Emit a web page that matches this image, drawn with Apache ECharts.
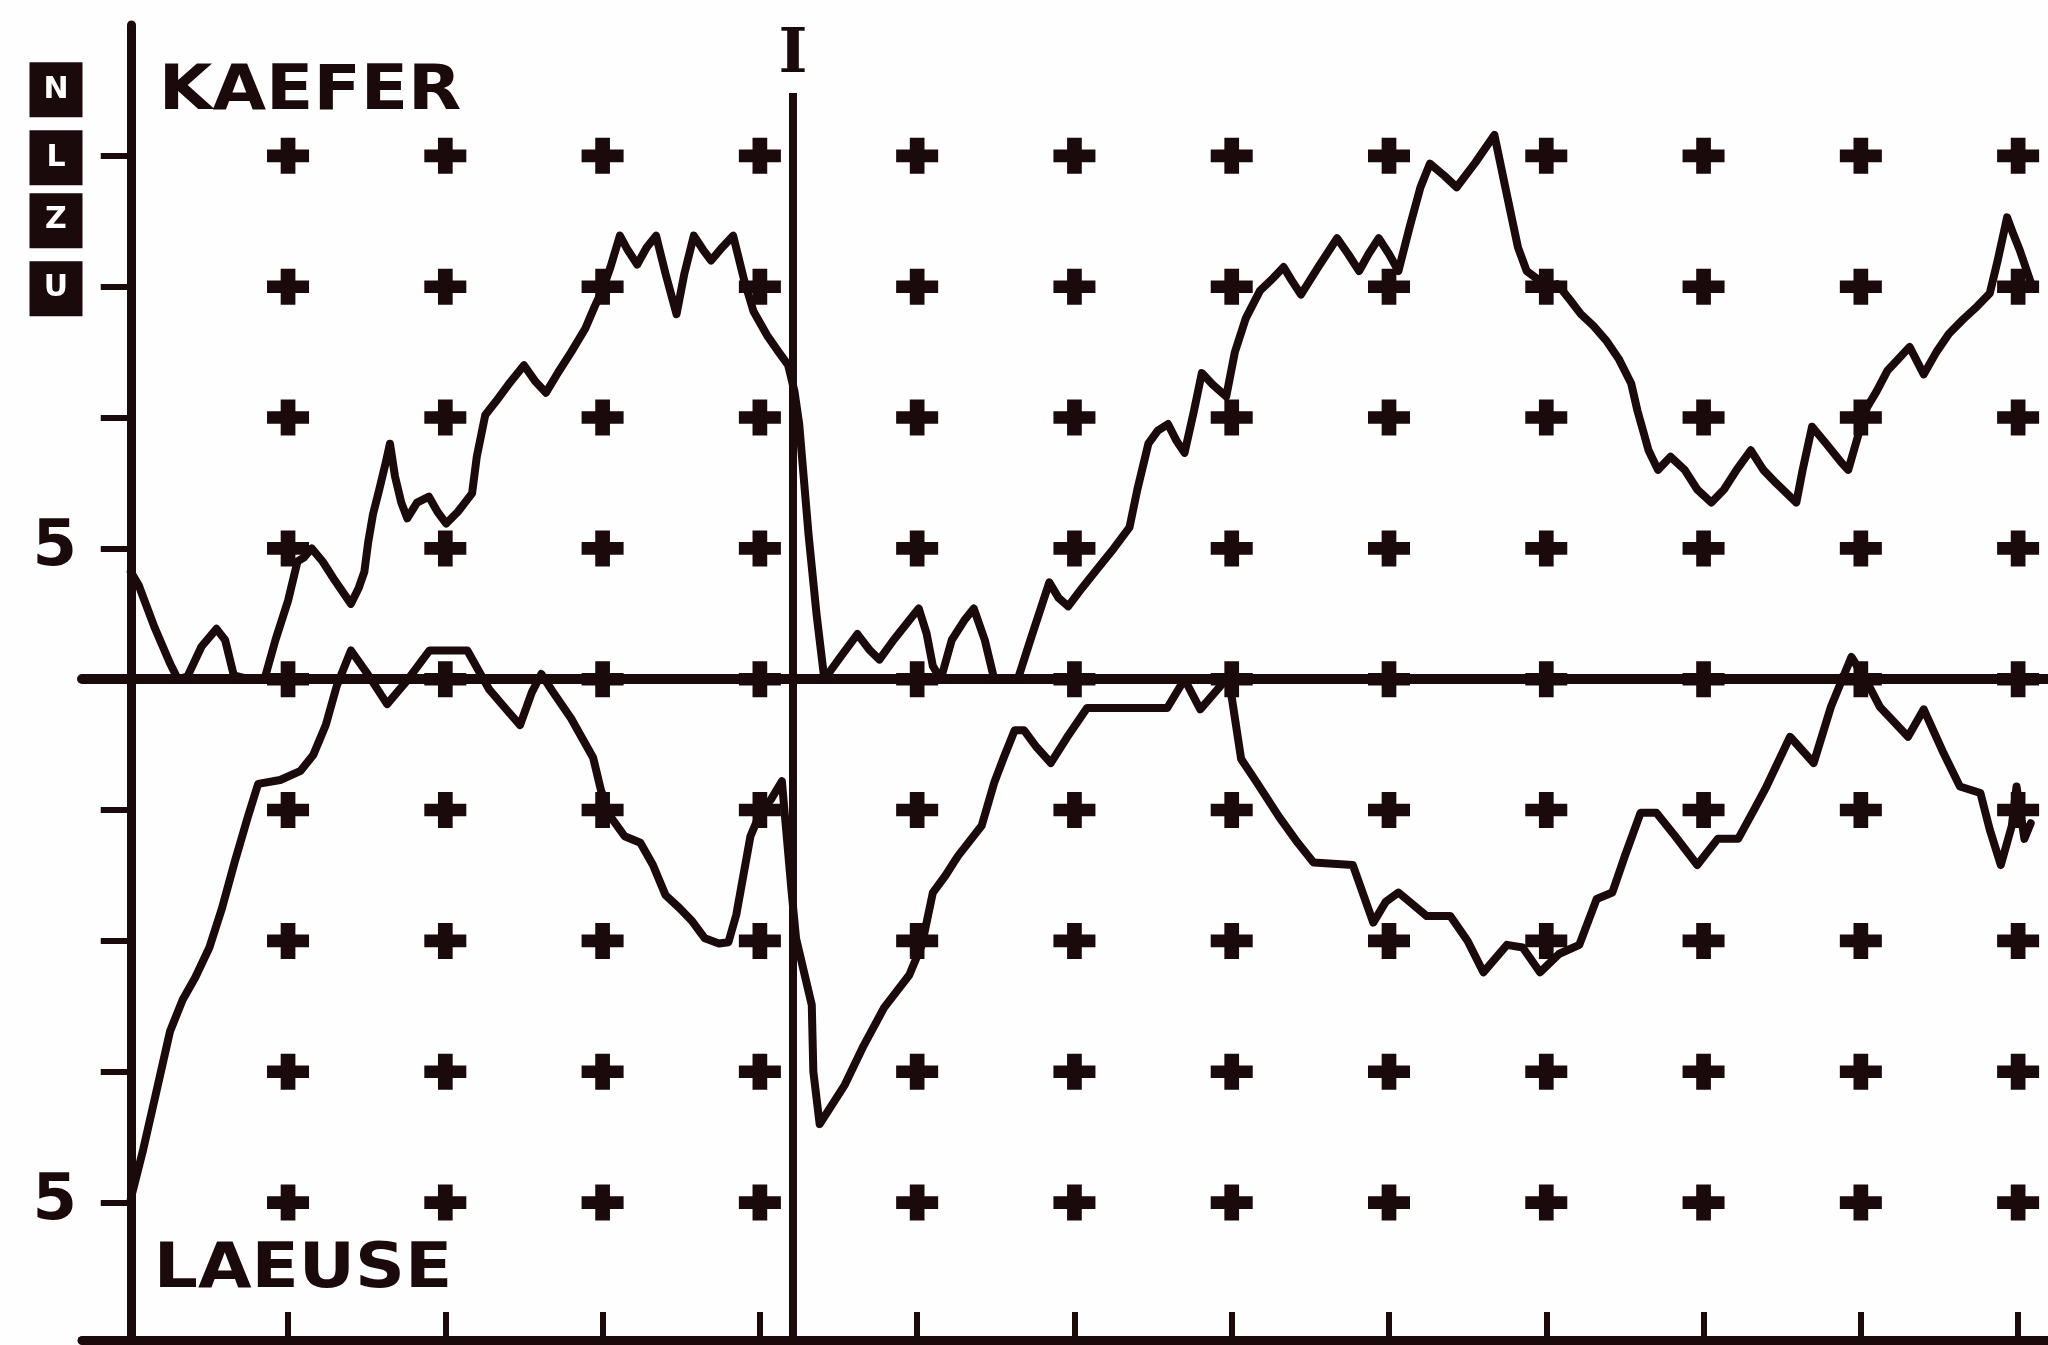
<!DOCTYPE html>
<html>
<head>
<meta charset="utf-8">
<script src="https://cdn.jsdelivr.net/npm/echarts@6/dist/echarts.min.js"></script>
<style>
html,body{margin:0;padding:0;background:#fefefe;}
#c{width:2048px;height:1345px;}
</style>
</head>
<body>
<div id="c"></div>
<script>
// ---- data ----
const seriesNames = ['KAEFER', 'LAEUSE'];
const kaefer = [[0,0.82],[0.05,0.72],[0.15,0.40],[0.25,0.12],[0.30,0.0],[0.36,0.02],[0.45,0.25],[0.545,0.385],[0.6,0.3],[0.655,0.03],[0.75,0.0],[0.85,0.0],
[0.92,0.3],[1.0,0.6],[1.06,0.9],[1.10,0.93],[1.15,1.0],[1.22,0.9],[1.30,0.75],[1.40,0.576],[1.45,0.7],[1.485,0.82],[1.51,1.05],[1.54,1.26],[1.58,1.45],[1.62,1.65],[1.648,1.80],[1.68,1.55],[1.72,1.35],[1.758,1.23],[1.82,1.35],[1.896,1.395],[1.95,1.28],[2.006,1.19],[2.08,1.28],[2.17,1.42],[2.2,1.7],[2.254,2.02],[2.32,2.12],[2.40,2.25],[2.50,2.40],[2.57,2.28],[2.64,2.19],[2.72,2.35],[2.80,2.5],[2.89,2.68],[2.95,2.85],[3.00,2.98],[3.05,3.15],[3.11,3.39],[3.16,3.28],[3.22,3.17],[3.28,3.3],[3.34,3.39],[3.40,3.1],[3.47,2.79],[3.52,3.1],[3.58,3.39],[3.64,3.28],[3.69,3.20],[3.76,3.3],[3.83,3.39],[3.90,3.05],[3.96,2.81],[4.05,2.62],[4.12,2.5],[4.18,2.40],
[4.22,2.2],[4.25,1.95],[4.31,1.10],[4.36,0.5],[4.41,0.0],
[4.5,0.15],[4.62,0.345],[4.70,0.22],[4.76,0.15],[4.85,0.3],[4.95,0.45],[5.01,0.54],[5.06,0.35],[5.10,0.1],[5.15,0.0],[5.22,0.3],[5.30,0.45],[5.36,0.54],[5.43,0.3],[5.49,0.0],[5.64,0.0],
[5.72,0.3],[5.84,0.74],[5.90,0.62],[5.96,0.557],[6.05,0.7],[6.15,0.85],[6.25,1.0],[6.35,1.16],[6.40,1.45],[6.47,1.80],[6.53,1.9],[6.595,1.95],[6.65,1.82],[6.70,1.73],[6.76,2.05],[6.81,2.34],[6.88,2.25],[6.965,2.16],[7.02,2.5],[7.09,2.76],[7.18,2.97],[7.25,3.05],[7.33,3.15],[7.38,3.05],[7.44,2.94],[7.55,3.15],[7.67,3.37],[7.74,3.25],[7.81,3.12],[7.87,3.25],[7.935,3.37],[8.0,3.25],[8.06,3.12],[8.13,3.45],[8.20,3.76],[8.26,3.94],[8.35,3.85],[8.43,3.76],[8.55,3.95],[8.67,4.16],[8.75,3.7],[8.82,3.3],[8.875,3.12],[9.01,3.00],[9.07,3.02],[9.15,2.9],[9.22,2.79],[9.30,2.7],[9.38,2.59],[9.46,2.45],[9.54,2.26],[9.58,2.05],[9.62,1.88],[9.65,1.75],[9.71,1.60],[9.79,1.70],[9.88,1.60],[9.96,1.45],[10.05,1.35],[10.13,1.45],[10.21,1.60],[10.30,1.75],[10.38,1.60],[10.46,1.50],[10.59,1.35],[10.63,1.60],[10.69,1.93],[10.78,1.80],[10.88,1.65],[10.92,1.60],[10.98,1.85],[11.04,2.08],[11.10,2.2],[11.17,2.36],[11.24,2.45],[11.31,2.54],[11.40,2.33],[11.48,2.5],[11.56,2.64],[11.65,2.75],[11.74,2.85],[11.82,2.95],[11.87,3.2],[11.93,3.53],[11.97,3.4],[12.01,3.28],[12.09,3.0]];

const laeuse = [[0,-3.97],[0.08,-3.59],[0.165,-3.14],[0.25,-2.69],[0.33,-2.45],[0.41,-2.28],[0.50,-2.05],[0.58,-1.75],[0.66,-1.40],[0.745,-1.05],[0.81,-0.80],[0.95,-0.77],[1.08,-0.70],[1.16,-0.58],[1.24,-0.35],[1.31,-0.05],[1.40,0.22],[1.50,0.05],[1.63,-0.19],[1.75,-0.02],[1.90,0.22],[2.14,0.22],[2.28,-0.08],[2.38,-0.22],[2.475,-0.35],[2.55,-0.1],[2.61,0.04],[2.68,-0.09],[2.80,-0.3],[2.94,-0.60],[2.99,-0.85],[3.05,-1.05],[3.14,-1.20],[3.24,-1.25],[3.32,-1.42],[3.40,-1.65],[3.49,-1.75],[3.57,-1.85],[3.65,-1.98],[3.74,-2.02],[3.80,-2.01],[3.85,-1.80],[3.88,-1.60],[3.94,-1.20],[4.01,-1.00],[4.07,-0.92],[4.14,-0.78],
[4.20,-1.60],[4.23,-1.98],[4.33,-2.49],[4.34,-3.00],[4.38,-3.40],[4.54,-3.10],[4.66,-2.8],[4.79,-2.51],[4.95,-2.26],[5.03,-2.03],[5.10,-1.63],[5.18,-1.5],[5.26,-1.35],[5.41,-1.12],[5.49,-0.79],[5.55,-0.6],[5.62,-0.39],[5.68,-0.39],[5.76,-0.52],[5.85,-0.64],[5.95,-0.45],[6.08,-0.22],[6.59,-0.22],[6.70,0.0],[6.80,-0.23],[6.98,0.02],[7.06,-0.61],[7.16,-0.79],[7.30,-1.05],[7.42,-1.25],[7.52,-1.40],[7.77,-1.42],[7.90,-1.86],[7.98,-1.7],[8.06,-1.63],[8.15,-1.72],[8.24,-1.81],[8.39,-1.81],[8.50,-2.0],[8.60,-2.24],[8.75,-2.03],[8.85,-2.05],[8.96,-2.24],[9.08,-2.1],[9.21,-2.03],[9.32,-1.68],[9.42,-1.63],[9.50,-1.35],[9.60,-1.02],[9.70,-1.02],[9.82,-1.2],[9.96,-1.42],[10.09,-1.22],[10.22,-1.22],[10.32,-1.0],[10.40,-0.82],[10.55,-0.44],[10.70,-0.64],[10.81,-0.21],[10.94,0.17],[11.03,0.0],[11.12,-0.21],[11.30,-0.44],[11.40,-0.23],[11.52,-0.55],[11.63,-0.82],[11.76,-0.87],[11.82,-1.15],[11.89,-1.42],[11.96,-1.12],[11.99,-0.82],[12.04,-1.22],[12.08,-1.1]];

const crossCols = [1,2,3,4,5,6,7,8,9,10,11,12];
const crossRows = [-4,-3,-2,-1,0,1,2,3,4];
const xTicks = [1,2,3,4,5,6,7,8,9,10,11,12];
const yTicks = [-4,-3,-2,-1,1,2,3,4];
const yLabelValues = [1,-4];
const yLabelText = {'1':'5','-4':'5'};
const markerX = 4.21;      // vertical marker "I"
const markerTop = 4.48;
const markerLabel = 'I';
const topGlyphs = [{value:4, chars:['N','L']},{value:3, chars:['Z','U']}];

// ---- chart ----
const ink = '#1a0a0c';
const xMin = -0.31, xMax = 12.19, yMin = -5.05, yMax = 5.0;
const crosses = [];
crossCols.forEach(c => crossRows.forEach(r => crosses.push([c, r])));

const chart = echarts.init(document.getElementById('c'), null, {renderer:'canvas'});
const option = {
  backgroundColor: '#fefefe',
  animation: false,
  grid: {left: 82, right: 0, top: 25, bottom: 5, containLabel: false, outerBoundsMode: 'none'},
  xAxis: [
    {type:'value', min:xMin, max:xMax, position:'top',
     axisLine:{show:true, onZero:true, lineStyle:{color:ink, width:10}},
     axisTick:{show:false}, axisLabel:{show:false}, splitLine:{show:false}},
    {type:'value', min:xMin, max:xMax, position:'bottom',
     axisLine:{show:true, onZero:false, lineStyle:{color:ink, width:9}},
     axisTick:{show:true, inside:true, length:28, lineStyle:{color:ink, width:6}, customValues:xTicks},
     axisLabel:{show:false}, splitLine:{show:false}}
  ],
  yAxis: {type:'value', min:yMin, max:yMax, position:'left',
    axisLine:{show:true, onZero:true, onZeroAxisIndex:0, lineStyle:{color:ink, width:9}},
    axisTick:{show:true, inside:false, length:30, lineStyle:{color:ink, width:6}, customValues:yTicks},
    axisLabel:{show:true, customValues:yLabelValues, margin:5, color:ink,
      fontFamily:'DejaVu Sans', fontWeight:'bold', fontSize:64,
      formatter: v => yLabelText[String(Math.round(v))] || ''},
    splitLine:{show:false}},
  series: [
    {type:'scatter', name:'grid', xAxisIndex:0, data:crosses, silent:true,
     symbol:'path://M6.5,0H13.5V6.5H20V13.5H13.5V20H6.5V13.5H0V6.5H6.5Z', symbolSize:[42,36],
     itemStyle:{color:ink, opacity:1}, z:1},
    {type:'line', name:seriesNames[0], xAxisIndex:0, data:kaefer, showSymbol:false, silent:true,
     lineStyle:{color:ink, width:8, join:'round', cap:'round'}, z:3,
     markLine:{symbol:'none', silent:true, animation:false,
       lineStyle:{color:ink, width:8, type:'solid'},
       label:{show:true, position:'end', formatter:markerLabel, distance:6, color:ink,
         fontFamily:'DejaVu Serif', fontWeight:'bold', fontSize:62},
       data:[[{coord:[markerX, yMin]},{coord:[markerX, markerTop]}]]}},
    {type:'line', name:seriesNames[1], xAxisIndex:0, data:laeuse, showSymbol:false, silent:true,
     lineStyle:{color:ink, width:8, join:'round', cap:'round'}, z:3}
  ]
};
chart.setOption(option);

// ---- text labels placed from axis coordinates ----
const px = (x, y) => chart.convertToPixel({gridIndex:0}, [x, y]);
const g = [];
const kPos = px(0.178, 4.48), lPos = px(0.146, -4.52);
[[seriesNames[0], kPos],[seriesNames[1], lPos]].forEach(([t, p]) => {
  g.push({type:'text', x:p[0], y:p[1], scaleX:1.1, z:10,
    style:{text:t, fill:ink, font:'bold 63px "DejaVu Sans"', align:'left', verticalAlign:'middle'}});
});
topGlyphs.forEach(tg => {
  const p = px(0, tg.value);
  const offs = [-66, 2];
  tg.chars.forEach((ch, i) => {
    g.push({type:'text', x:56, y:p[1] + offs[i], z:10,
      style:{text:ch, fill:'#ffffff', font:'bold 30px "DejaVu Sans"', align:'center', verticalAlign:'middle',
        backgroundColor:ink, width:53, height:55, lineHeight:55}});
  });
});
chart.setOption({graphic: g});
</script>
</body>
</html>
